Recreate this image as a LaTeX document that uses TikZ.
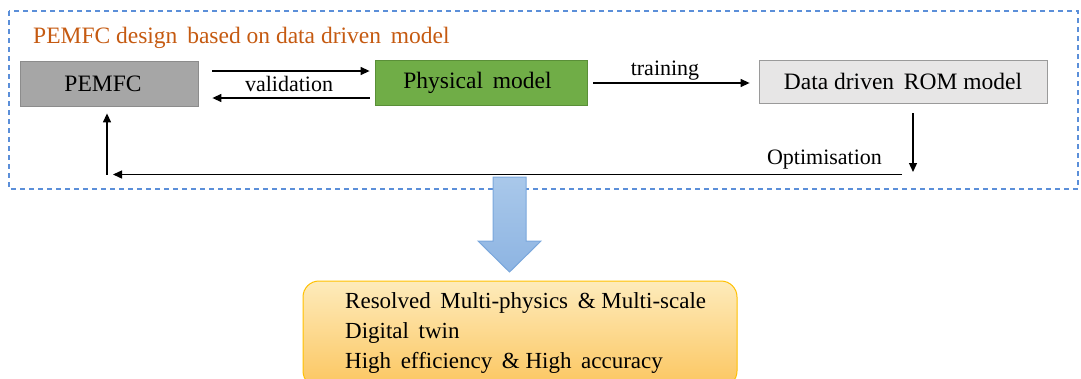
\documentclass[tikz,border=0pt]{standalone}
\usepackage{fontspec}
\setmainfont{Liberation Serif}
\usetikzlibrary{arrows.meta}
\definecolor{titleor}{HTML}{C55A11}
\definecolor{pemgray}{HTML}{A6A6A6}
\definecolor{pemedge}{HTML}{8C8C8C}
\definecolor{physgreen}{HTML}{70AD47}
\definecolor{physedge}{HTML}{5A8F38}
\definecolor{romgray}{HTML}{E7E6E6}
\definecolor{romedge}{HTML}{9A9A9A}
\definecolor{dashblue}{HTML}{5B8FD9}
\definecolor{arrtop}{HTML}{A9C8EA}
\definecolor{arrbot}{HTML}{8DB4E2}
\definecolor{arredge}{HTML}{7AA7DC}
\definecolor{ytop}{HTML}{FDEBBB}
\definecolor{ybot}{HTML}{FCC660}
\definecolor{yedge}{HTML}{FFC000}
\begin{document}
\begin{tikzpicture}[x=1pt,y=-1pt,
  txt/.style={font=\fontsize{22}{26}\selectfont, text=black},
  box/.style={font=\fontsize{23.5}{27}\selectfont, text=black, inner sep=0pt, line width=0.8pt},
  arr/.style={line width=1.3pt, -{Triangle[length=9pt,width=8pt]}},
  lbl/.style={txt, inner sep=0pt, anchor=base}]
\useasboundingbox (0,0) rectangle (1081,378);
% dashed frame
\draw[dashblue, line width=1.1pt, dash pattern=on 5pt off 4pt] (9,11) rectangle (1078,189);
\node[anchor=base west, inner sep=0pt, text=titleor, font=\fontsize{23.5}{27}\selectfont] (title) at (33,43.5) {PEMFC design\, based on data driven\, model};
% boxes
\node[box, fill=pemgray, draw=pemedge, minimum width=178pt, minimum height=45pt] (pemfc) at (109,83.5) {PEMFC\kern12pt};
\node[box, fill=physgreen, draw=physedge, minimum width=212pt, minimum height=45pt] (phys) at (481,83) {Physical\, model\kern7pt};
\node[box, fill=romgray, draw=romedge, minimum width=288pt, minimum height=43pt] (rom) at (903,81.5) {Data driven\, ROM model};
% validation arrows
\draw[arr] ([xshift=14pt,yshift=12.5pt]pemfc.east) -- ([xshift=-5pt,yshift=12pt]phys.west);
\draw[arr] ([xshift=-5pt,yshift=-15pt]phys.west) -- ([xshift=14pt,yshift=-14.5pt]pemfc.east);
\node[lbl] (val) at (289,91.5) {validation};
% training
\draw[arr] ([xshift=6pt]phys.east) -- ([xshift=-9pt]rom.west |- phys.east);
\node[lbl] (train) at (665,75) {training};
% optimisation loop
\coordinate (dEnd) at (913,172);
\coordinate (optR) at (902,174.5);
\coordinate (optL) at (113,174.5);
\coordinate (upB) at (107,174.5);
\draw[arr] ([xshift=10pt,yshift=-10pt]rom.south) -- (dEnd);
\draw[arr] (optR) -- (optL);
\draw[arr] (upB) -- ([xshift=-2pt,yshift=-7pt]pemfc.south);
\node[lbl] (opt) at (824.5,164) {Optimisation};
% big arrow
\shade[top color=arrtop, bottom color=arrbot, draw=arredge, line width=1pt]
  (493,177) -- (526,177) -- (526,241) -- (541,241) -- (509.5,272) -- (478,241) -- (493,241) -- cycle;
% result box
\begin{scope}
\clip (0,0) rectangle (1081,378);
\node[draw=yedge, line width=1pt, rounded corners=16pt, top color=ytop, bottom color=ybot, minimum width=434pt, minimum height=106pt] (res) at (520,334) {};
\end{scope}
\node[anchor=west, align=left, inner sep=0pt, font=\fontsize{23}{30}\selectfont] (restext) at (345,333)
  {Resolved\, Multi-physics\, \& Multi-scale\\Digital\, twin\\High\, efficiency\, \& High\, accuracy};
\end{tikzpicture}
\end{document}
